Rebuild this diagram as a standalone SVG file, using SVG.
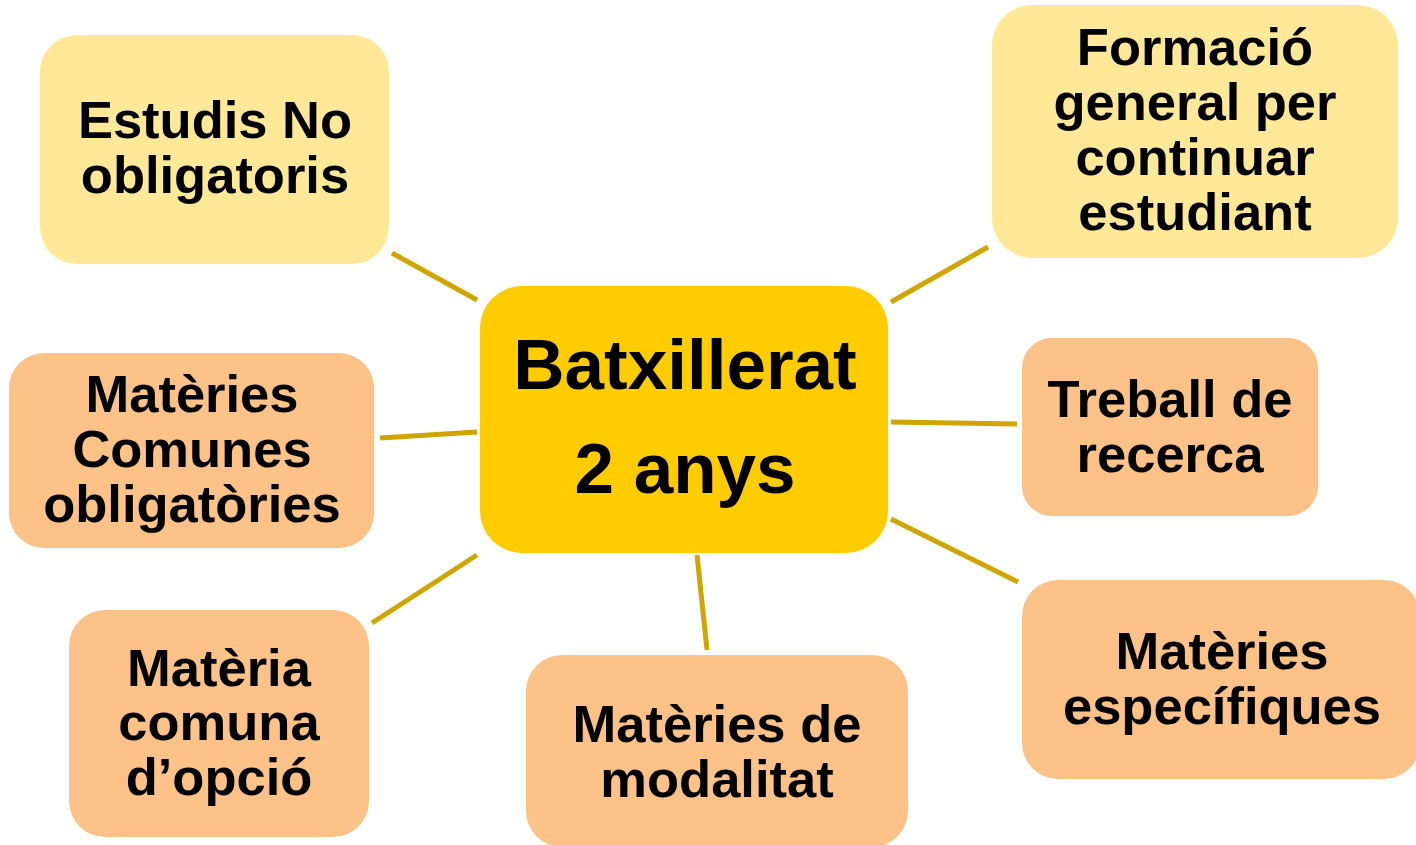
<svg xmlns="http://www.w3.org/2000/svg" width="1416" height="845" viewBox="0 0 1416 845">
<style>
.lt{fill:#FFE999}
.or{fill:#FDC288}
.ct{fill:#FFCC00}
text{font-family:"Liberation Sans",Arial,sans-serif;font-weight:bold;fill:#000;text-anchor:middle}
.t{font-size:52.5px}
.b{font-size:71px}
.cn line{stroke:#CFA500;stroke-width:5}
</style>
<rect width="1416" height="845" fill="#fff"/>
<g id="connectors" class="cn">
<line x1="392" y1="253" x2="477" y2="300"/>
<line x1="891" y1="302" x2="988" y2="247"/>
<line x1="380" y1="438" x2="477" y2="432"/>
<line x1="891" y1="422" x2="1017" y2="424"/>
<line x1="372" y1="623" x2="477" y2="555"/>
<line x1="891" y1="519" x2="1018" y2="582"/>
<line x1="697" y1="555" x2="707" y2="650"/>
</g>
<g id="estudis">
<rect class="lt" x="40" y="35" width="349" height="229" rx="37"/>
<text class="t" x="215" y="138">Estudis No</text>
<text class="t" x="215" y="193">obligatoris</text>
</g>
<g id="formacio">
<rect class="lt" x="992" y="5" width="406" height="253" rx="40"/>
<text class="t" x="1195" y="65">Formació</text>
<text class="t" x="1195" y="120">general per</text>
<text class="t" x="1195" y="175">continuar</text>
<text class="t" x="1195" y="230">estudiant</text>
</g>
<g id="batxillerat">
<rect class="ct" x="480" y="286" width="408" height="267" rx="42"/>
<text class="b" x="685" y="389">Batxillerat</text>
<text class="b" x="685" y="493">2 anys</text>
</g>
<g id="comunes">
<rect class="or" x="9" y="353" width="365" height="195" rx="35"/>
<text class="t" x="192" y="412">Matèries</text>
<text class="t" x="192" y="467">Comunes</text>
<text class="t" x="192" y="522">obligatòries</text>
</g>
<g id="treball">
<rect class="or" x="1022" y="338" width="296" height="178" rx="30"/>
<text class="t" x="1170" y="417">Treball de</text>
<text class="t" x="1170" y="472">recerca</text>
</g>
<g id="opcio">
<rect class="or" x="69" y="610" width="300" height="227" rx="36"/>
<text class="t" x="219" y="686">Matèria</text>
<text class="t" x="219" y="740">comuna</text>
<text class="t" x="219" y="795">d’opció</text>
</g>
<g id="modalitat">
<rect class="or" x="526" y="655" width="382" height="192" rx="36"/>
<text class="t" x="717" y="742">Matèries de</text>
<text class="t" x="717" y="797">modalitat</text>
</g>
<g id="especifiques">
<rect class="or" x="1022" y="580" width="398" height="199" rx="36"/>
<text class="t" x="1222" y="669">Matèries</text>
<text class="t" x="1222" y="724">específiques</text>
</g>
</svg>
